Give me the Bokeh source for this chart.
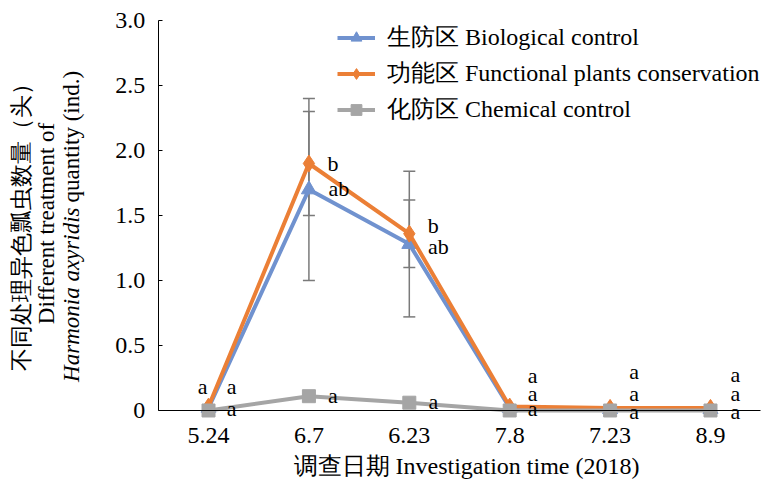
import math

from bokeh.embed import file_html
from bokeh.models import (ColumnDataSource, FixedTicker, Label, LabelSet,
                          Legend, LegendItem, PrintfTickFormatter, Range1d,
                          TeeHead, Whisker)
from bokeh.plotting import figure
from bokeh.resources import INLINE

# Survey dates (2018) and mean ladybird counts per treatment
dates = ["5.24", "6.7", "6.23", "7.8", "7.23", "8.9"]
bio = [0.02, 1.70, 1.28, 0.02, 0.01, 0.01]
func = [0.03, 1.90, 1.36, 0.03, 0.02, 0.02]
chem = [0.00, 0.11, 0.06, 0.00, 0.00, 0.00]

# Standard errors
bio_err = [0.0, 0.70, 0.56, 0.0, 0.0, 0.0]
func_err = [0.0, 0.40, 0.26, 0.0, 0.0, 0.0]

# Significance letters
bio_sig = ["a", "ab", "ab", "a", "a", "a"]
func_sig = ["a", "b", "b", "a", "a", "a"]
chem_sig = ["a", "a", "a", "a", "a", "a"]

y_ticks = [0, 0.5, 1.0, 1.5, 2.0, 2.5, 3.0]

names = ["生防区 Biological control",
         "功能区 Functional plants conservation",
         "化防区 Chemical control"]

FONT = "Liberation Serif"
BLUE = "#7092CF"
ORANGE = "#EB7F36"
GRAY = "#A5A5A5"
ERR = "#7A7A7A"

W, H = 763, 487
pos = list(range(len(dates)))          # category slots 0..5

# The plot area fills the whole page; axes sit at fixed positions inside it
p = figure(width=W, height=H, output_backend="svg", toolbar_location=None,
           x_range=Range1d(-2.072, 5.528), y_range=Range1d(-0.5923, 3.1538),
           min_border=0)
p.outline_line_color = None
p.grid.grid_line_color = None
p.background_fill_color = "white"

# x axis along y = 0
p.xaxis.fixed_location = 0
p.xaxis.bounds = (-0.5, len(dates) - 0.5)
p.xaxis.ticker = FixedTicker(ticks=pos)
p.xaxis.major_label_overrides = {i: d for i, d in zip(pos, dates)}
p.xaxis.axis_line_color = "black"
p.xaxis.major_tick_line_color = None
p.xaxis.minor_tick_line_color = None
p.xaxis.major_label_standoff = 12
p.xaxis.major_label_text_font = FONT
p.xaxis.major_label_text_font_size = "24px"
p.xaxis.major_label_text_color = "black"

# y axis at the left edge of the first slot
p.yaxis.fixed_location = -0.5
p.yaxis.bounds = (0, 3.0)
p.yaxis.ticker = FixedTicker(ticks=y_ticks)
p.yaxis.formatter = PrintfTickFormatter(format="%.1f")
p.yaxis.major_label_overrides = {0: "0"}
p.yaxis.axis_line_color = "black"
p.yaxis.major_tick_in = 4
p.yaxis.major_tick_out = 0
p.yaxis.minor_tick_line_color = None
p.yaxis.major_label_standoff = 13
p.yaxis.major_label_text_font = FONT
p.yaxis.major_label_text_font_size = "24px"
p.yaxis.major_label_text_color = "black"

# error bars
for vals, errs in ((bio, bio_err), (func, func_err)):
    idx = [i for i, e in enumerate(errs) if e > 0]
    src = ColumnDataSource(dict(
        x=[pos[i] for i in idx],
        lower=[vals[i] - errs[i] for i in idx],
        upper=[vals[i] + errs[i] for i in idx]))
    w = Whisker(source=src, base="x", lower="lower", upper="upper",
                line_color=ERR, line_width=1.5,
                upper_head=TeeHead(size=12, line_color=ERR, line_width=1.5),
                lower_head=TeeHead(size=12, line_color=ERR, line_width=1.5))
    p.add_layout(w)

# series
series = [
    (bio, BLUE, "triangle", 15),
    (func, ORANGE, "diamond", 17),
    (chem, GRAY, "square", 13),
]
items = []
for (vals, color, marker, size), name in zip(series, names):
    src = ColumnDataSource(dict(x=pos, y=vals))
    ln = p.line("x", "y", source=src, line_color=color, line_width=4)
    sc = p.scatter("x", "y", source=src, marker=marker, size=size,
                   fill_color=color, line_color=color)
    items.append(LegendItem(label=name, renderers=[ln, sc]))

legend = Legend(items=items, location=(337, 362), orientation="vertical",
                glyph_width=38, glyph_height=27, label_height=27, spacing=4,
                label_standoff=12, padding=0, margin=0,
                label_text_font=FONT, label_text_font_size="24px",
                label_text_color="black",
                background_fill_alpha=0, border_line_color=None)
p.add_layout(legend)

# significance letters, placed beside each point (offsets in px, up positive)
letter_sets = [
    (func, func_sig, [-6, 24, 24, 23, 24, 25], [20, 0, 8, 31, 36, 33]),
    (bio, bio_sig, [23, 30, 29, 23, 24, 25], [21, 1, -2, 14, 16, 16]),
    (chem, chem_sig, [23, 24, 24, 23, 24, 25], [2, 1, 1, 2, -1, -1]),
]
for vals, sig, dx, dy in letter_sets:
    src = ColumnDataSource(dict(x=pos, y=vals, t=sig, dx=dx, dy=dy))
    p.add_layout(LabelSet(x="x", y="y", text="t", source=src,
                          x_offset="dx", y_offset="dy",
                          text_align="center", text_baseline="middle",
                          text_font=FONT, text_font_size="22px",
                          text_color="black"))

# axis titles (screen px, measured up from the bottom edge)
p.add_layout(Label(x=466, y=22, x_units="screen", y_units="screen",
                   text="调查日期 Investigation time (2018)",
                   text_align="center", text_baseline="middle",
                   text_font=FONT, text_font_size="24px", text_color="black"))

p.add_layout(Label(x=21, y=266, x_units="screen", y_units="screen",
                   text="不同处理异色瓢虫数量（头）", angle=math.pi / 2,
                   text_align="center", text_baseline="middle",
                   text_font=FONT, text_font_size="23px", text_color="black"))
p.add_layout(Label(x=46, y=264, x_units="screen", y_units="screen",
                   text="Different treatment of", angle=math.pi / 2,
                   text_align="center", text_baseline="middle",
                   text_font=FONT, text_font_size="23px", text_color="black"))
p.add_layout(Label(x=71, y=280, x_units="screen", y_units="screen",
                   text="Harmonia axyridis", angle=math.pi / 2,
                   text_align="right", text_baseline="middle",
                   text_font=FONT, text_font_size="23px",
                   text_font_style="italic", text_color="black"))
p.add_layout(Label(x=71, y=285, x_units="screen", y_units="screen",
                   text="quantity (ind.)", angle=math.pi / 2,
                   text_align="left", text_baseline="middle",
                   text_font=FONT, text_font_size="23px", text_color="black"))

open("out.html", "w").write(file_html(p, INLINE))
